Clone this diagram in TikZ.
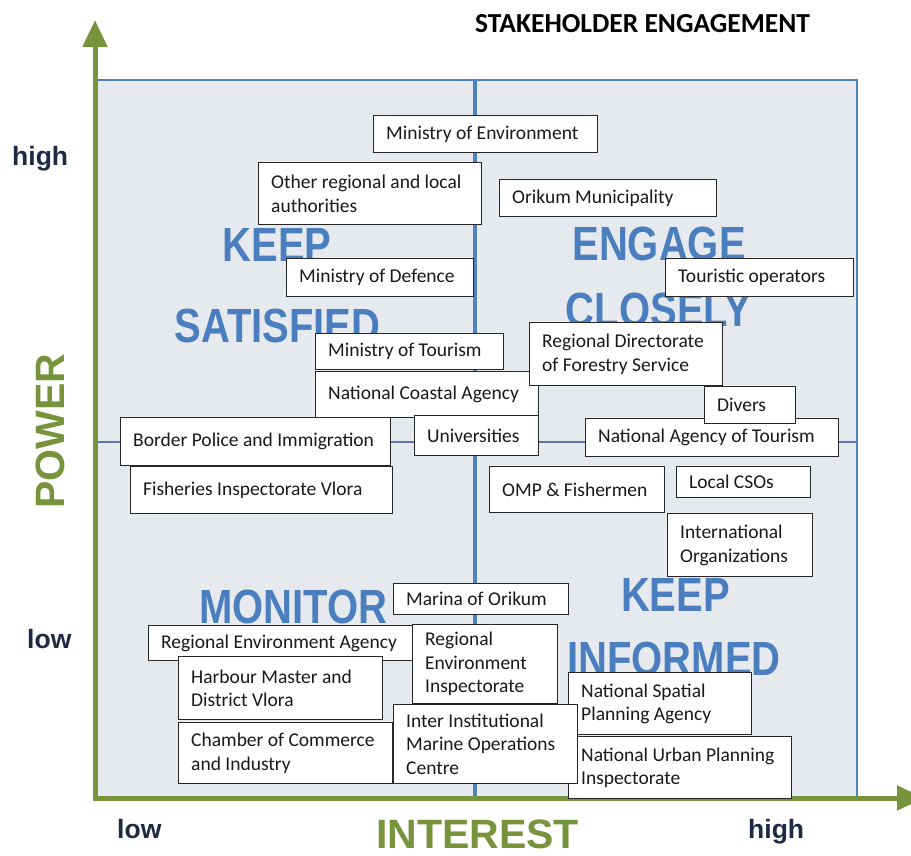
\documentclass[tikz,border=0pt]{standalone}
\usepackage{graphicx}
\usepackage{fontspec}
\setmainfont{Carlito}
\newfontfamily\arialf{Liberation Sans}
\usetikzlibrary{arrows.meta}
\definecolor{axisgreen}{HTML}{77933C}
\definecolor{quadblue}{HTML}{4F81BD}
\definecolor{labelblue}{HTML}{4A7EBE}
\definecolor{quadfill}{HTML}{E6EAEF}
\definecolor{sepline}{HTML}{5F74AD}
\definecolor{navytext}{HTML}{1E2A44}
% #1 name, #2 x, #3 y (top-left), #4 width, #5 height, #6 text
\newcommand\stk[6]{%
  \node[stkbox, minimum width=#4pt, minimum height=#5pt] (#1) at (#2,#3) {};
  \node[stktext] (#1t) at ([xshift=13pt]#1.west) {#6};}
\begin{document}
\begin{tikzpicture}[x=1pt,y=-1pt,
  stkbox/.style={draw=black!85, line width=1.4pt, fill=white, anchor=north west, inner sep=0pt},
  stktext/.style={anchor=west, align=left, inner sep=0pt, font=\fontsize{19.5}{23.5}\selectfont, text=black!90},
  quadlabel/.style={text=labelblue, font=\arialf\bfseries\fontsize{40}{40}\selectfont, inner sep=0pt},
  axislabel/.style={text=axisgreen, font=\arialf\bfseries\fontsize{41}{41}\selectfont, inner sep=0pt},
  levellabel/.style={text=navytext, font=\arialf\bfseries\fontsize{26.5}{26.5}\selectfont, inner sep=0pt, anchor=base west},
  axisline/.style={draw=axisgreen, line width=5pt, {Triangle[length=27pt,width=24pt]}-{Triangle[length=27pt,width=24pt]}},
  quadrect/.style={draw=quadblue, line width=2pt, fill=quadfill}
]
\useasboundingbox (0,0) rectangle (911,855);
\fill[white] (0,0) rectangle (911,855);

% quadrants
\path[quadrect] (97,80) rectangle (475,798);
\path[quadrect] (475,80) rectangle (857,798);
\draw[quadblue, line width=3.5pt] (475,80) -- (475,798);
\draw[sepline, line width=2pt] (97,442) -- (857,442);

% axes
\draw[axisline] (95,20) -- (95,798) -- (924,798);

% title
\node[anchor=base west, inner sep=0pt, font=\bfseries\fontsize{27.5}{27.5}\selectfont] (title) at (475,32) {STAKEHOLDER ENGAGEMENT};

% quadrant labels
\node[quadlabel] (keepA) at (277,244.5) {\scalebox{1}[1.2]{KEEP}};
\node[quadlabel] (satisfied) at (277.5,325.5) {\scalebox{1}[1.2]{SATISFIED}};
\node[quadlabel] (engage) at (659,244) {\scalebox{1}[1.2]{ENGAGE}};
\node[quadlabel] (closely) at (658.5,310) {\scalebox{1}[1.2]{CLOSELY}};
\node[quadlabel] (monitor) at (293.5,606.5) {\scalebox{1}[1.2]{MONITOR}};
\node[quadlabel] (keepB) at (675.5,594.5) {\scalebox{1}[1.2]{KEEP}};
\node[quadlabel] (informed) at (674,659) {\scalebox{1}[1.2]{INFORMED}};

% axis labels
\node[axislabel, rotate=90] (power) at (50,431) {POWER};
\node[axislabel] (interest) at (477.5,834) {INTEREST};
\node[levellabel] (yhigh) at (12,165) {high};
\node[levellabel] (ylow) at (27,648) {low};
\node[levellabel] (xlow) at (117,838) {low};
\node[levellabel] (xhigh) at (748,838) {high};

% stakeholder boxes
\stk{env}{373}{115}{224}{37}{Ministry of Environment}
\stk{other}{258}{162}{223}{62}{Other regional and local\\authorities}
\stk{ori}{499}{179}{217}{37}{Orikum Municipality}
\stk{def}{286}{258}{187}{38}{Ministry of Defence}
\stk{tourop}{665}{258}{188}{38}{Touristic operators}
\stk{mtour}{315}{333}{188}{36}{Ministry of Tourism}
\stk{nca}{315}{371}{223}{46}{National Coastal Agency}
\stk{rdf}{529}{322}{193}{63}{Regional Directorate\\of Forestry Service}
\stk{nat}{585}{418}{253}{38}{National Agency of Tourism}
\stk{div}{704}{386}{91}{37}{Divers}
\stk{bp}{120}{417}{270}{48}{Border Police and Immigration}
\stk{uni}{414}{415}{124}{40}{Universities}
\stk{fis}{130}{466}{262}{47}{Fisheries Inspectorate Vlora}
\stk{omp}{489}{466}{175}{46}{OMP \& Fishermen}
\stk{cso}{676}{466}{134}{31}{Local CSOs}
\stk{io}{667}{513}{145}{63}{International\\Organizations}
\stk{mar}{393}{583}{175}{31}{Marina of Orikum}
\stk{rea}{148}{625}{264}{35}{Regional Environment Agency}
\stk{rei}{412}{624}{145}{79}{Regional\\Environment\\Inspectorate}
\stk{hm}{178}{656}{204}{63}{Harbour Master and\\District Vlora}
\stk{nsp}{568}{672}{183}{62}{National Spatial\\Planning Agency}
\stk{nup}{568}{736}{223}{62}{National Urban Planning\\Inspectorate}
\stk{iimoc}{393}{704}{184}{79}{Inter Institutional\\Marine Operations\\Centre}
\stk{cci}{178}{722}{214}{61}{Chamber of Commerce\\and Industry}
\end{tikzpicture}
\end{document}
